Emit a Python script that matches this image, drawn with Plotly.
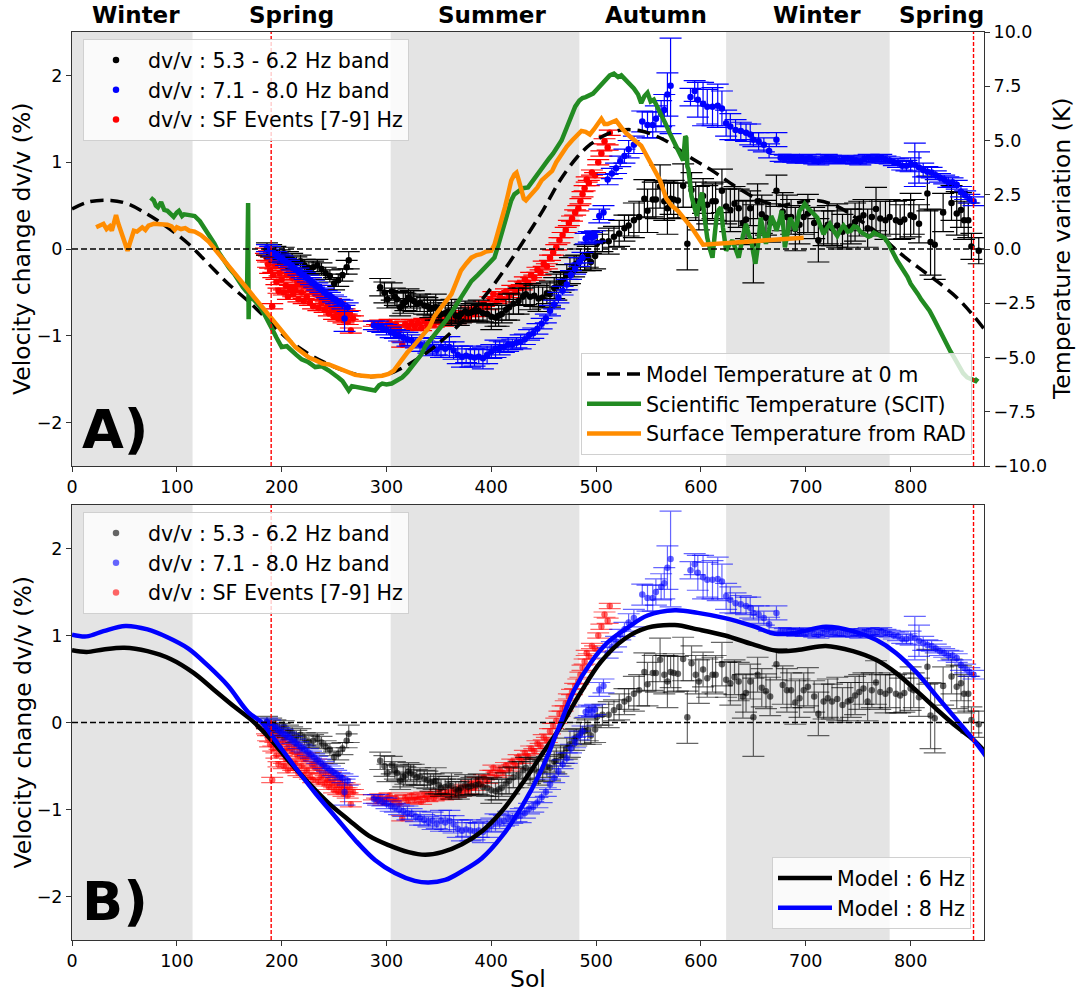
import plotly.graph_objects as go

# ---------------- data ----------------
GRAY_SPANS = [(0, 115), (304, 484), (624, 780)]
SPRING_MARKS = [190, 860]
SEASON_LABELS = ["Winter", "Spring", "Summer", "Autumn", "Winter", "Spring"]
SEASON_X = [61, 209, 401, 557, 711, 829]
X_TICKS = [0, 100, 200, 300, 400, 500, 600, 700, 800]

BLACK_SOL = [186,190,194,198,202,206,210,214,218,222,
             226,230,234,238,242,246,250,254,258,262,264,
             294,298,301,305,308,310,313,316,318,321,
             323,326,329,332,336,339,342,345,347,350,
             352,356,359,362,366,369,371,375,378,381,
             385,388,392,396,400,404,407,410,414,417,
             421,426,430,433,437,441,445,449,453,456,
             460,462,466,469,472,475,479,481,485,489,
             492,495,499,501,506,512,517,522,527,531,
             536,541,546,549,554,557,561,565,568,571,
             574,578,583,587,591,595,598,602,606,611,
             614,620,624,628,632,636,640,643,647,650,
             654,658,662,666,672,678,682,686,690,694,
             698,702,708,712,717,721,725,730,735,740,
             743,747,751,755,759,763,767,771,776,780,
             786,790,794,800,803,808,816,819,823,831,
             839,844,848,851,855,858,865]
BLACK_DV = [0.00,-0.02,-0.04,-0.08,-0.05,-0.10,-0.12,-0.16,-0.14,-0.19,
            -0.22,-0.21,-0.19,-0.23,-0.28,-0.31,-0.40,-0.36,-0.30,-0.21,-0.13,
            -0.44,-0.50,-0.58,-0.49,-0.55,-0.58,-0.67,-0.62,-0.61,-0.56,
            -0.58,-0.60,-0.63,-0.62,-0.65,-0.66,-0.69,-0.68,-0.67,-0.72,
            -0.75,-0.74,-0.72,-0.73,-0.77,-0.78,-0.75,-0.72,-0.74,-0.73,
            -0.72,-0.71,-0.74,-0.75,-0.78,-0.79,-0.77,-0.75,-0.70,-0.67,
            -0.63,-0.60,-0.55,-0.52,-0.55,-0.54,-0.57,-0.56,-0.51,-0.52,
            -0.45,-0.44,-0.38,-0.37,-0.30,-0.25,-0.20,-0.17,-0.12,-0.10,
            -0.09,-0.15,-0.08,0.07,0.09,0.09,0.14,0.18,0.24,0.27,
            0.33,0.37,0.58,0.44,0.57,0.57,0.72,0.55,0.47,0.58,
            0.57,0.56,0.73,0.06,0.68,0.55,0.47,0.61,0.51,0.55,
            0.55,0.67,0.49,0.45,0.52,0.47,0.30,0.34,0.47,0.06,
            0.55,0.40,0.36,0.30,0.67,0.43,0.37,0.37,0.23,0.28,
            0.37,0.41,0.30,0.10,0.24,0.28,0.24,0.27,0.20,0.24,
            0.26,0.31,0.35,0.39,0.24,0.37,0.46,0.35,0.33,0.37,
            0.33,0.31,0.34,0.39,0.37,0.29,0.64,0.08,0.05,0.42,
            0.53,0.41,0.45,0.33,0.33,0.03,-0.02]
BLACK_ERR = [0.07,0.07,0.07,0.07,0.07,0.07,0.07,0.07,0.07,0.07,
             0.07,0.07,0.07,0.07,0.07,0.07,0.07,0.07,0.07,0.08,0.10,
             0.10,0.12,0.10,0.10,0.10,0.09,0.10,0.12,0.10,0.10,
             0.10,0.12,0.09,0.10,0.10,0.10,0.10,0.09,0.15,0.10,
             0.10,0.09,0.10,0.15,0.09,0.10,0.10,0.12,0.09,0.10,
             0.10,0.12,0.10,0.10,0.15,0.10,0.12,0.10,0.12,0.15,
             0.12,0.15,0.10,0.12,0.15,0.12,0.15,0.12,0.12,0.15,
             0.12,0.15,0.12,0.10,0.12,0.15,0.12,0.10,0.12,0.15,
             0.12,0.10,0.15,0.10,0.12,0.15,0.12,0.15,0.15,0.12,
             0.20,0.18,0.22,0.25,0.20,0.22,0.25,0.22,0.30,0.18,
             0.22,0.20,0.25,0.30,0.20,0.22,0.25,0.20,0.22,0.20,
             0.22,0.25,0.20,0.25,0.20,0.22,0.25,0.22,0.20,0.45,
             0.20,0.22,0.20,0.22,0.18,0.22,0.25,0.20,0.25,0.22,
             0.20,0.22,0.18,0.25,0.20,0.22,0.20,0.25,0.20,0.22,
             0.20,0.22,0.20,0.18,0.22,0.20,0.25,0.20,0.22,0.20,
             0.22,0.20,0.22,0.25,0.20,0.22,0.20,0.38,0.40,0.22,
             0.20,0.25,0.20,0.22,0.20,0.15,0.15]

BLUE_SOL = [186,189,192,195,198,201,204,207,210,213,216,219,222,225,
            228,231,234,237,240,243,246,249,252,255,258,260,263,
            288,292,296,300,304,308,312,316,320,324,
            328,332,336,340,344,348,352,356,360,364,
            368,372,376,380,384,388,392,396,400,404,
            408,412,416,420,424,428,432,436,440,444,
            448,452,456,460,464,468,472,476,480,484,
            487,490,493,496,499,503,507,511,515,519,
            523,527,531,536,544,549,554,557,562,565,
            568,571,590,594,597,602,606,611,616,620,
            624,628,633,638,643,647,650,655,660,665,
            672,676,680,684,688,692,696,700,704,708,
            712,716,720,724,728,732,736,740,744,748,
            752,756,760,764,768,772,776,780,784,788,
            792,796,800,804,808,812,816,820,824,828,
            832,836,840,844,848,852,856,860]
BLUE_DV = [0.01,-0.01,-0.04,-0.07,-0.10,-0.12,-0.15,-0.17,-0.20,-0.23,-0.26,-0.29,-0.31,-0.34,
           -0.37,-0.40,-0.43,-0.46,-0.49,-0.52,-0.54,-0.57,-0.59,-0.62,-0.64,-0.80,-0.67,
           -0.88,-0.89,-0.91,-0.93,-0.96,-0.98,-1.00,-1.02,-1.04,-1.05,
           -1.08,-1.10,-1.12,-1.14,-1.13,-1.16,-1.13,-1.15,-1.13,-1.17,
           -1.22,-1.24,-1.23,-1.24,-1.25,-1.24,-1.26,-1.22,-1.18,-1.15,
           -1.14,-1.13,-1.10,-1.10,-1.08,-1.07,-1.04,-0.99,-0.97,-0.92,
           -0.86,-0.80,-0.71,-0.64,-0.56,-0.48,-0.41,-0.30,-0.23,-0.15,
           -0.10,0.12,0.14,0.13,0.15,0.38,0.42,0.80,0.87,0.93,
           1.01,1.07,1.15,1.20,1.47,1.43,1.43,1.50,1.56,1.60,
           1.78,1.88,1.75,1.82,1.72,1.67,1.64,1.64,1.65,1.62,
           1.45,1.41,1.37,1.36,1.34,1.32,1.26,1.24,1.20,1.13,
           1.26,1.05,1.04,1.05,1.04,1.03,1.04,1.03,1.05,1.02,
           1.01,1.03,1.05,1.04,1.03,1.02,1.03,1.04,1.03,1.02,
           1.01,1.04,1.05,1.03,1.04,1.05,1.03,1.02,1.00,0.99,
           0.96,0.96,0.97,0.97,0.94,0.91,0.89,0.88,0.85,0.82,
           0.80,0.77,0.77,0.74,0.66,0.62,0.58,0.55]
BLUE_ERR = [0.04,0.04,0.04,0.04,0.04,0.04,0.04,0.04,0.04,0.04,0.04,0.04,0.04,0.04,
            0.04,0.04,0.04,0.04,0.04,0.04,0.04,0.04,0.04,0.04,0.05,0.15,0.05,
            0.05,0.06,0.05,0.06,0.06,0.05,0.06,0.06,0.08,0.06,
            0.06,0.08,0.06,0.06,0.10,0.06,0.12,0.08,0.12,0.10,
            0.10,0.12,0.08,0.12,0.10,0.08,0.12,0.10,0.08,0.10,
            0.08,0.06,0.08,0.06,0.06,0.08,0.06,0.06,0.06,0.06,
            0.06,0.05,0.06,0.05,0.06,0.05,0.06,0.05,0.06,0.05,
            0.06,0.06,0.06,0.06,0.06,0.08,0.08,0.06,0.06,0.06,
            0.06,0.08,0.10,0.10,0.12,0.15,0.15,0.15,0.15,0.18,
            0.25,0.55,0.10,0.12,0.20,0.25,0.20,0.22,0.25,0.20,
            0.15,0.15,0.12,0.10,0.10,0.12,0.08,0.10,0.08,0.08,
            0.08,0.04,0.04,0.04,0.04,0.04,0.04,0.04,0.04,0.04,
            0.04,0.04,0.04,0.04,0.04,0.04,0.04,0.04,0.04,0.04,
            0.04,0.04,0.04,0.04,0.04,0.04,0.04,0.04,0.04,0.05,
            0.05,0.06,0.08,0.25,0.18,0.08,0.06,0.06,0.05,0.05,
            0.05,0.06,0.05,0.05,0.06,0.05,0.05,0.05]

RED_SOL = [185,186,187,188,189, 190,191,192,193,194, 195,196,197,198,199,
           200,201,202,203,204, 205,206,207,208,210, 211,212,213,215,216,
           217,219,220,221,223, 224,226,227,229,230, 232,233,235,236,238,
           239,241,242,244,245, 247,248,250,251,253, 254,256,257,259,260,
           262,263,265,266,268,
           288,291,294,297,300,303,306,309,312,315,
           318,321,324,327,330,333,336,339,342,345,
           348,351,354,357,360,363,366,369,372,375,
           378,381,384,387,390,393,396,399,402,405,
           408,411,414,417,420,423,426,429,432,435,
           438,441,444,447,450,453,456,459,462,465,
           468,471,474,477,480,483,485,487,489,491,
           493,496,499,502,505,508,511,513]
RED_DV = [-0.02,-0.10,-0.18,-0.05,-0.25, -0.12,-0.66,-0.30,-0.08,-0.20, -0.38,-0.15,-0.48,-0.28,-0.12,
          -0.35,-0.22,-0.50,-0.18,-0.42, -0.30,-0.55,-0.25,-0.45,-0.33, -0.52,-0.28,-0.47,-0.38,-0.58,
          -0.32,-0.50,-0.40,-0.60,-0.42, -0.55,-0.38,-0.62,-0.48,-0.66, -0.52,-0.45,-0.68,-0.55,-0.62,
          -0.50,-0.70,-0.58,-0.66,-0.74, -0.60,-0.70,-0.78,-0.64,-0.72, -0.80,-0.68,-0.76,-0.82,-0.72,
          -0.78,-0.84,-0.74,-0.94,-0.80,
          -0.86,-0.90,-0.85,-0.92,-0.88,-0.84,-0.91,-0.87,-0.93,-1.10,
          -0.86,-0.90,-0.84,-0.89,-0.85,-0.91,-0.83,-0.88,-0.82,-0.87,
          -0.84,-0.80,-0.86,-0.81,-0.85,-0.78,-0.83,-0.76,-0.81,-0.74,
          -0.79,-0.70,-0.75,-0.66,-0.71,-0.63,-0.67,-0.58,-0.52,-0.60,
          -0.54,-0.58,-0.49,-0.53,-0.45,-0.50,-0.40,-0.44,-0.35,-0.39,
          -0.30,-0.33,-0.24,-0.27,-0.17,-0.20,-0.10,-0.04,0.02,0.10,
          0.16,0.22,0.30,0.35,0.42,0.47,0.55,0.63,0.70,0.80,
          0.76,0.88,0.85,1.00,1.10,1.24,1.17,1.34]
RED_ERR = 0.03

# temperatures (K)
MODEL_T_SOL = [0,15,37,53,72,91,111,130,149,168,187,206,226,245,264,283,302,321,341,360,
               379,398,417,436,450,465,482,495,508,524,543,566,589,611,633,655,675,690,711,730,
               749,768,787,807,826,845,860,872]
MODEL_T_K = [1.84,2.16,2.24,2.08,1.60,1.00,0.24,-0.68,-1.60,-2.40,-3.28,-4.16,-4.84,-5.32,-5.68,-5.88,-5.76,-5.32,-4.68,-3.92,
             -3.00,-1.92,-0.64,0.76,1.84,3.12,4.24,4.84,5.24,5.48,5.44,5.00,4.24,3.60,2.88,2.28,2.00,2.12,2.24,1.96,
             1.40,0.76,-0.08,-0.84,-1.52,-2.28,-3.08,-3.80]

SCIT_SOL = [75,78,80,82,85,88,91,94,97,100,102,105,107,112,117,122,126,131,136,140,
            145,150,155,159,163,167,168,168.5,169,174,179,183,187,190,195,200,205,209,214,219,
            225,232,238,245,250,254,258,262,264,267,270,280,289,293,296,300,305,310,315,320,
            325,328,333,337,341,345,349,353,357,361,365,370,375,381,387,394,399,403,406,408,
            411,413,416,419,422,426,430,435,439,442,446,451,455,459,463,467,472,477,480,484,
            487,490,493,497,500,503,507,510,513,517,521,524,527,531,536,540,543,546,549,552,
            555,559,563,566,570,573,576,579,581,583,585,586,587,588,591,594,596,598,601,603,
            606,609,611,613,615,617,619,621,624,627,630,633,636,640,643,646,648,650,652,655,
            657,660,662,665,667,670,672,675,677,679,680,683,685,688,690,692,694,697,699,702,
            704,708,711,714,717,720,723,726,730,733,736,740,743,746,749,752,756,760,762,765,
            768,771,775,778,781,784,787,790,794,797,800,804,807,810,813,816,818,822,826,830,
            834,838,842,846,850,854,858,862,864]
SCIT_K = [2.36,2.24,2.00,1.92,2.16,1.80,1.76,1.60,1.48,1.68,1.76,1.52,1.60,1.56,1.52,1.28,1.00,0.60,0.24,-0.16,
          -0.56,-0.88,-1.16,-1.48,-1.76,-2.00,2.12,-3.24,-2.20,-2.36,-2.64,-2.96,-3.28,-3.60,-4.08,-4.52,-4.48,-4.68,-4.88,-5.08,
          -5.20,-5.44,-5.40,-5.60,-5.76,-5.92,-6.08,-6.40,-6.52,-6.32,-6.36,-6.44,-6.52,-6.28,-6.20,-6.24,-6.20,-6.08,-5.92,-5.68,
          -5.36,-5.16,-4.88,-4.48,-4.24,-4.00,-3.84,-3.60,-3.28,-3.00,-2.68,-2.28,-1.92,-1.48,-1.20,-0.84,-0.60,-0.40,0.08,0.40,
          1.00,1.32,1.80,2.24,2.52,2.68,2.80,2.84,3.12,3.32,3.60,3.92,4.16,4.40,4.72,5.00,5.60,6.24,6.56,6.84,
          6.96,7.00,7.08,7.16,7.32,7.48,7.72,7.88,8.00,8.08,7.92,8.00,7.84,7.68,7.40,7.12,6.72,7.04,7.20,6.80,
          6.88,6.48,6.12,5.80,5.36,5.04,4.76,4.48,4.28,4.08,5.20,5.12,3.80,3.68,2.44,1.80,1.52,2.08,2.60,1.60,
          0.52,-0.08,-0.40,0.60,1.52,1.80,1.92,1.00,-0.08,0.20,0.40,0.00,-0.40,0.60,1.16,0.60,0.40,-0.20,-0.68,0.40,
          1.44,0.72,0.24,0.88,1.52,1.20,0.84,1.32,1.76,0.80,0.08,0.80,1.44,1.12,0.84,1.28,1.76,1.92,2.08,1.88,
          1.76,1.60,1.44,1.12,0.68,0.96,1.16,0.88,0.60,0.88,1.08,0.80,0.84,1.04,1.00,0.80,0.68,0.56,0.60,0.76,
          0.68,0.60,0.52,0.32,0.08,-0.24,-0.52,-0.76,-1.00,-1.28,-1.60,-1.84,-2.08,-2.32,-2.52,-2.72,-2.84,-3.20,-3.60,-4.00,
          -4.40,-4.72,-5.04,-5.40,-5.72,-5.92,-6.00,-6.08,-5.96]

RAD_SOL = [23,27,30,33,36,38,40,42,44,46,48,50,53,55,57,59,62,65,67,70,
           73,78,84,91,95,98,100,104,108,112,117,123,130,136,142,148,155,161,168,174,
           181,186,191,196,200,206,213,220,226,232,239,245,251,257,264,270,277,285,296,302,
           307,311,315,320,325,330,335,341,346,352,357,362,366,371,376,381,386,390,395,400,
           403,406,410,413,416,419,422,424,426,428,431,433,436,439,444,448,453,458,462,467,
           472,477,482,486,490,494,498,502,505,508,511,515,519,524,529,534,539,543,548,553,
           557,561,564,567,572,578,584,591,597,602,650,698]
RAD_K = [1.00,1.12,1.16,0.92,1.04,0.84,1.20,1.56,1.20,0.88,0.60,0.28,-0.08,0.24,0.56,0.84,0.80,0.96,1.00,0.88,
         1.08,1.16,1.12,1.12,1.04,0.88,1.00,0.92,0.96,0.84,0.80,0.64,0.36,0.00,-0.36,-0.68,-1.12,-1.48,-1.88,-2.24,
         -2.64,-2.96,-3.28,-3.52,-3.76,-4.12,-4.52,-4.80,-5.00,-5.12,-5.28,-5.32,-5.44,-5.56,-5.68,-5.80,-5.84,-5.88,-5.84,-5.76,
         -5.60,-5.32,-5.08,-4.76,-4.52,-4.24,-3.92,-3.60,-3.08,-2.68,-2.40,-2.08,-1.60,-1.00,-0.68,-0.40,-0.28,-0.24,-0.12,-0.08,
         0.20,0.68,1.40,1.92,2.52,3.16,3.44,3.52,3.20,2.80,2.32,2.24,2.40,2.52,2.84,3.16,3.36,3.60,4.00,4.40,
         4.72,5.00,5.24,5.44,5.40,5.28,5.52,5.76,6.00,5.76,5.76,5.84,5.92,5.60,5.32,5.12,4.88,4.76,4.32,3.92,
         3.52,3.16,2.72,2.32,2.00,1.76,1.40,1.00,0.56,0.20,0.36,0.52]

# models (dv/v %)
MODEL6_SOL = [0,14,30,50,72,94,116,135,155,171,187,206,226,245,264,283,302,321,337,353,
              372,391,410,429,448,466,485,504,527,549,575,597,623,649,674,696,719,745,767,786,
              806,825,844,860,872]
MODEL6_DV = [0.83,0.81,0.84,0.86,0.82,0.73,0.57,0.38,0.18,0.03,-0.16,-0.43,-0.70,-0.93,-1.12,-1.30,-1.41,-1.49,-1.52,-1.49,
             -1.40,-1.25,-1.02,-0.71,-0.37,-0.05,0.34,0.69,0.96,1.09,1.12,1.07,1.00,0.90,0.82,0.84,0.88,0.82,0.72,0.57,
             0.36,0.15,-0.05,-0.20,-0.35]
MODEL8_SOL = [0,14,30,51,72,91,111,130,149,168,181,193,212,232,251,270,289,308,327,340,
              356,372,391,410,429,448,463,479,495,511,530,549,575,597,623,649,671,690,719,745,
              767,786,806,825,844,860,872]
MODEL8_DV = [1.01,0.99,1.05,1.11,1.07,0.98,0.85,0.65,0.42,0.12,0.00,-0.19,-0.50,-0.81,-1.08,-1.35,-1.58,-1.73,-1.82,-1.84,
             -1.81,-1.71,-1.56,-1.31,-0.97,-0.54,-0.10,0.37,0.69,0.92,1.09,1.23,1.29,1.26,1.20,1.11,1.02,1.03,1.10,1.05,
             0.95,0.80,0.57,0.30,0.03,-0.20,-0.39]

assert len(BLACK_SOL) == len(BLACK_DV) == len(BLACK_ERR)
assert len(BLUE_SOL) == len(BLUE_DV) == len(BLUE_ERR)
assert len(RED_SOL) == len(RED_DV)
assert len(SCIT_SOL) == len(SCIT_K)
assert len(RAD_SOL) == len(RAD_K)
assert len(MODEL_T_SOL) == len(MODEL_T_K)
assert len(MODEL6_SOL) == len(MODEL6_DV)
assert len(MODEL8_SOL) == len(MODEL8_DV)

# ---------------- layout geometry (pixels) ----------------
W, H = 1076, 996
ML, MR, MT, MB = 72, 92, 32, 56
PW, PH = W - ML - MR, H - MT - MB
def fx(p):
    return (p - ML) / PW
def fy(p):
    return (H - MB - p) / PH

FONT = "DejaVu Sans"
TICKF = dict(family=FONT, size=17.5, color="black")

fig = go.Figure()

def add_points(sol, dv, err, color, name, xa, ya, legend, rank):
    if isinstance(err, list):
        ey = dict(type="data", array=err, color=color, thickness=1.2, width=11)
    else:
        ey = dict(type="constant", value=err, color=color, thickness=1.2, width=11)
    fig.add_trace(go.Scatter(x=sol, y=dv, mode="markers", name=name,
                             marker=dict(color=color, size=6.5, line=dict(width=0)),
                             error_y=ey, xaxis=xa, yaxis=ya, legend=legend, legendrank=rank))

NAMES = ["dv/v : 5.3 - 6.2 Hz band", "dv/v : 7.1 - 8.0 Hz band", "dv/v : SF Events [7-9] Hz"]

# Panel A points (red drawn underneath, legend order kept)
add_points(RED_SOL, RED_DV, RED_ERR, "red", NAMES[2], "x", "y", "legend", 3)
add_points(BLACK_SOL, BLACK_DV, BLACK_ERR, "black", NAMES[0], "x", "y", "legend", 1)
add_points(BLUE_SOL, BLUE_DV, BLUE_ERR, "blue", NAMES[1], "x", "y", "legend", 2)

# Panel A temperatures
fig.add_trace(go.Scatter(x=MODEL_T_SOL, y=MODEL_T_K, mode="lines", name="Model Temperature at 0 m",
                         line=dict(color="black", width=3.5, dash="13px,7px", shape="spline"),
                         xaxis="x", yaxis="y2", legend="legend2", legendrank=1))
fig.add_trace(go.Scatter(x=SCIT_SOL, y=SCIT_K, mode="lines", name="Scientific Temperature (SCIT)",
                         line=dict(color="#228B22", width=4.5),
                         xaxis="x", yaxis="y2", legend="legend2", legendrank=2))
fig.add_trace(go.Scatter(x=RAD_SOL, y=RAD_K, mode="lines", name="Surface Temperature from RAD",
                         line=dict(color="#FF8C00", width=4.5),
                         xaxis="x", yaxis="y2", legend="legend2", legendrank=3))

# Panel B points
add_points(RED_SOL, RED_DV, RED_ERR, "rgba(255,0,0,0.6)", NAMES[2], "x2", "y3", "legend3", 3)
add_points(BLACK_SOL, BLACK_DV, BLACK_ERR, "rgba(0,0,0,0.6)", NAMES[0], "x2", "y3", "legend3", 1)
add_points(BLUE_SOL, BLUE_DV, BLUE_ERR, "rgba(0,0,255,0.6)", NAMES[1], "x2", "y3", "legend3", 2)

fig.add_trace(go.Scatter(x=MODEL6_SOL, y=MODEL6_DV, mode="lines", name="Model : 6 Hz",
                         line=dict(color="black", width=4.5, shape="spline"),
                         xaxis="x2", yaxis="y3", legend="legend4", legendrank=1))
fig.add_trace(go.Scatter(x=MODEL8_SOL, y=MODEL8_DV, mode="lines", name="Model : 8 Hz",
                         line=dict(color="blue", width=4.5, shape="spline"),
                         xaxis="x2", yaxis="y3", legend="legend4", legendrank=2))

# shapes
shapes = []
for xr, yr in (("x", "y"), ("x2", "y3")):
    for a, b in GRAY_SPANS:
        shapes.append(dict(type="rect", xref=xr, yref=yr + " domain", x0=a, x1=b, y0=0, y1=1,
                           fillcolor="#e4e4e4", line=dict(width=0), layer="below"))
    shapes.append(dict(type="line", xref=xr + " domain", yref=yr, x0=0, x1=1, y0=0, y1=0,
                       line=dict(color="black", width=1.6, dash="6px,3px"), layer="above"))
    for s in SPRING_MARKS:
        shapes.append(dict(type="line", xref=xr, yref=yr + " domain", x0=s, x1=s, y0=0, y1=1,
                           line=dict(color="red", width=1.4, dash="4px,2px"), layer="above"))

annotations = []
for lab, sx in zip(SEASON_LABELS, SEASON_X):
    annotations.append(dict(text="<b>%s</b>" % lab, x=sx, xref="x", y=fy(15), yref="paper",
                            showarrow=False, xanchor="center", yanchor="middle",
                            font=dict(family=FONT, size=23, color="black")))
annotations.append(dict(text="<b>A)</b>", x=fx(80), y=fy(463), xref="paper", yref="paper",
                        showarrow=False, xanchor="left", yanchor="bottom",
                        font=dict(family=FONT, size=54, color="black")))
annotations.append(dict(text="<b>B)</b>", x=fx(80), y=fy(935), xref="paper", yref="paper",
                        showarrow=False, xanchor="left", yanchor="bottom",
                        font=dict(family=FONT, size=54, color="black")))
for yc in ((32 + 466) / 2, (505 + 940) / 2):
    annotations.append(dict(text="Velocity change dv/v (%)", x=fx(22), y=fy(yc), xref="paper", yref="paper",
                            showarrow=False, textangle=-90, xanchor="center", yanchor="middle",
                            font=dict(family=FONT, size=23.5, color="black")))
annotations.append(dict(text="Temperature variation (K)", x=fx(1062), y=fy((32 + 466) / 2), xref="paper",
                        yref="paper", showarrow=False, textangle=-90, xanchor="center", yanchor="middle",
                        font=dict(family=FONT, size=23.5, color="black")))
annotations.append(dict(text="Sol", x=0.5, y=fy(979), xref="paper", yref="paper", showarrow=False,
                        xanchor="center", yanchor="middle", font=dict(family=FONT, size=23.5, color="black")))

ax = dict(showline=True, linecolor="#333", linewidth=1, mirror=True, ticks="outside", ticklen=5,
          tickwidth=1, tickcolor="#333", showgrid=False, zeroline=False, tickfont=TICKF)

legstyle = dict(bgcolor="rgba(255,255,255,0.8)", bordercolor="#d0d0d0", borderwidth=1,
                font=dict(family=FONT, size=20.6, color="black"), itemwidth=54, traceorder="normal")

fig.update_layout(
    width=W, height=H, margin=dict(l=ML, r=MR, t=MT, b=MB),
    paper_bgcolor="white", plot_bgcolor="white",
    xaxis=dict(ax, domain=[0, 1], range=[0, 870], tickvals=X_TICKS, anchor="y"),
    yaxis=dict(ax, domain=[fy(466), 1], range=[-2.5, 2.5], tickvals=[-2, -1, 0, 1, 2], anchor="x"),
    yaxis2=dict(ax, overlaying="y", side="right", anchor="x", range=[-10, 10],
                tickvals=[-10, -7.5, -5, -2.5, 0, 2.5, 5, 7.5, 10], tickformat=".1f", mirror=False),
    xaxis2=dict(ax, domain=[0, 1], range=[0, 870], tickvals=X_TICKS, anchor="y3"),
    yaxis3=dict(ax, domain=[0, fy(505)], range=[-2.5, 2.5], tickvals=[-2, -1, 0, 1, 2], anchor="x2"),
    legend=dict(legstyle, x=fx(83), y=fy(39), xanchor="left", yanchor="top"),
    legend2=dict(legstyle, x=fx(972), y=fy(455), xanchor="right", yanchor="bottom"),
    legend3=dict(legstyle, x=fx(83), y=fy(512), xanchor="left", yanchor="top"),
    legend4=dict(legstyle, x=fx(971), y=fy(929), xanchor="right", yanchor="bottom"),
    shapes=shapes, annotations=annotations, showlegend=True,
)

fig.write_html("out.html", config={"displayModeBar": False},
               post_script="document.body.style.margin='0px';document.body.style.padding='0px';")
